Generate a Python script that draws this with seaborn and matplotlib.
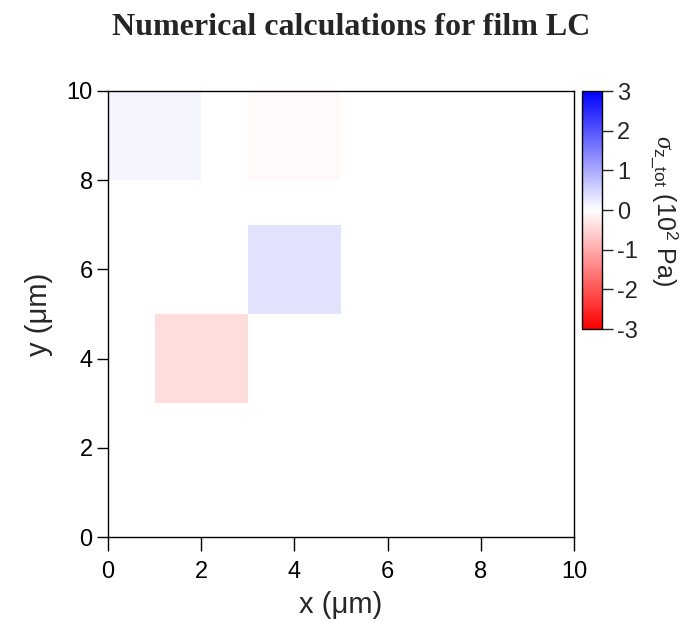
import numpy as np
import matplotlib
matplotlib.use("Agg")
import matplotlib.pyplot as plt
from matplotlib.colors import LinearSegmentedColormap
import seaborn as sns

# --- data ---
grid_size = 10
patch_x = [0, 3, 3, 1]          # lower-left x of each 2x2 block (µm)
patch_y = [8, 8, 5, 3]          # lower-left y of each 2x2 block (µm)
patch_value = [0.12, -0.06, 0.32, -0.40]   # sigma_z_tot (10^2 Pa)
x_ticks = [0, 2, 4, 6, 8, 10]
y_ticks = [0, 2, 4, 6, 8, 10]
cbar_ticks = [-3, -2, -1, 0, 1, 2, 3]

field = np.zeros((grid_size, grid_size))
for px, py, v in zip(patch_x, patch_y, patch_value):
    field[py:py + 2, px:px + 2] = v

sns.set_style("white")
plt.rcParams['font.family'] = ['Liberation Sans', 'DejaVu Sans']
plt.rcParams['mathtext.fontset'] = 'custom'
plt.rcParams['mathtext.rm'] = 'Liberation Sans'
plt.rcParams['mathtext.it'] = 'Liberation Serif:italic'

cmap = LinearSegmentedColormap.from_list('rwb', ['#ff0000', '#ffffff', '#0000ff'], N=255)

fig = plt.figure(figsize=(6.95, 6.28), dpi=100)
ax = fig.add_axes([0.1554, 0.1449, 0.6706, 0.7102])
cax = fig.add_axes([0.8374, 0.476, 0.0288, 0.379])

sns.heatmap(field, ax=ax, cbar_ax=cax, cmap=cmap, vmin=-3, vmax=3,
            xticklabels=False, yticklabels=False)
ax.invert_yaxis()
ax.set_xlim(0, 10)
ax.set_ylim(0, 10)

for s in ax.spines.values():
    s.set_visible(True)
    s.set_color('black')
    s.set_linewidth(1.0)

ax.set_xticks(x_ticks)
ax.set_xticklabels([str(t) for t in x_ticks])
ax.set_yticks(y_ticks)
ax.set_yticklabels([str(t) for t in y_ticks], rotation=0)
ax.tick_params(axis='x', which='both', direction='out', length=10, width=1,
               bottom=True, labelsize=17, pad=7, colors='black')
ax.tick_params(axis='y', which='both', direction='out', length=8, width=1,
               left=True, labelsize=17, pad=3, colors='black')
ax.set_xlabel('x (\u03bcm)', fontsize=21, labelpad=6)
ax.set_ylabel('y (\u03bcm)', fontsize=21, labelpad=10)

cb = ax.collections[0].colorbar
cb.set_ticks(cbar_ticks)
cb.set_ticklabels([str(t) for t in cbar_ticks])
cb.outline.set_visible(True)
cb.outline.set_linewidth(1.0)
cb.outline.set_edgecolor('black')
cax.tick_params(direction='out', length=8, width=1, labelsize=17, right=True, pad=3)
cb.set_label(r'$\sigma_{\mathrm{z\_tot}}$ (10$^{2}$ Pa)', fontsize=18,
             rotation=-90, labelpad=30)

fig.suptitle('Numerical calculations for film LC', fontsize=23, fontweight='bold',
             family='Liberation Serif', x=0.505, y=0.98)

fig.savefig('out.png', dpi=100)
